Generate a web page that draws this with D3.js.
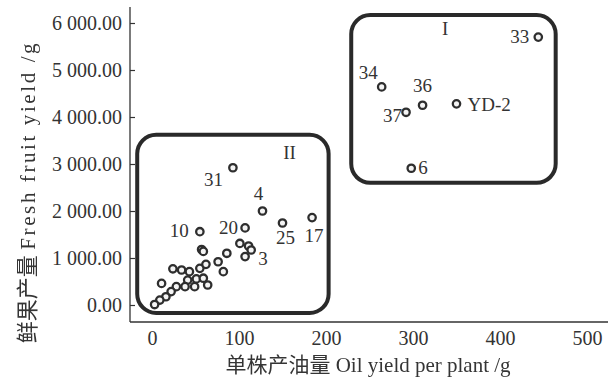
<!DOCTYPE html>
<html>
<head>
<meta charset="utf-8">
<script src="https://cdn.jsdelivr.net/npm/d3@7"></script>
<style>
  html, body { margin: 0; padding: 0; background: #fff; }
  svg { display: block; }
  text { font-family: "Liberation Serif", "Noto Sans CJK SC", serif; fill: #333; }
</style>
</head>
<body>
<svg id="chart" width="615" height="378"></svg>
<script>
// Oil yield per plant (g) vs fresh fruit yield (g), grouped into two clusters.
const labelledIds = ["33", "34", "36", "37", "YD-2", "6", "31", "4", "17", "25", "20", "10", "3"];
const labelledOil = [444, 264, 311, 292, 350, 298, 93, 127, 184, 150, 107, 55, 114];
const labelledFruit = [5700, 4640, 4250, 4100, 4280, 2910, 2920, 2000, 1860, 1745, 1640, 1560, 1170];

const otherOil = [24, 34, 43, 55, 62, 76, 82, 51, 59, 41, 38, 49, 64, 28, 11, 22, 16, 9, 3, 86, 57, 59, 101, 111, 107];
const otherFruit = [770, 745, 710, 780, 865, 920, 710, 555, 570, 530, 390, 390, 425, 390, 460, 285, 175, 105, 10, 1100, 1180, 1140, 1310, 1255, 1030];

const xTicks = [0, 100, 200, 300, 400, 500];
const yTicks = [0, 1000, 2000, 3000, 4000, 5000, 6000];

// Cluster outlines in data units: [oilMin, oilMax, fruitMin, fruitMax]
const groupNames = ["I", "II"];
const groupBounds = [[229, 464, 2600, 6170], [-17, 203, -170, 3620]];
const groupNameAt = [[337, 5740], [158, 3100]];

// Label placement around each point (dx, dy, anchor)
const labelPlacement = {
  "33": [-9, 6, "end"], "34": [-4, -8, "end"], "36": [0, -13, "middle"],
  "37": [-4, 10, "end"], "YD-2": [11, 7, "start"], "6": [7, 6, "start"],
  "31": [-10, 18, "end"], "4": [-4, -11, "middle"], "17": [2, 24, "middle"],
  "25": [3, 21, "middle"], "20": [-7, 6, "end"], "10": [-11, 5, "end"],
  "3": [7, 15, "start"]
};

const svg = d3.select("#chart");
svg.append("rect").attr("width", 615).attr("height", 378).attr("fill", "#fff");

const x = d3.scaleLinear().domain([0, 500]).range([152, 587]);
const y = d3.scaleLinear().domain([0, 6000]).range([305, 23]);

const fmt = d3.formatLocale({ decimal: ".", thousands: " ", grouping: [3], currency: ["", ""] }).format(",.2f");

// Axis lines
svg.append("line").attr("x1", 130).attr("x2", 130).attr("y1", 7).attr("y2", 322)
  .attr("stroke", "#333").attr("stroke-width", 1.3);
svg.append("line").attr("x1", 130).attr("x2", 608).attr("y1", 322).attr("y2", 322)
  .attr("stroke", "#333").attr("stroke-width", 1.3);

// Y axis: inward ticks, labels on the left
const yAxis = svg.append("g").attr("transform", "translate(130,0)")
  .call(d3.axisLeft(y).tickValues(yTicks).tickFormat(fmt).tickSizeInner(-5).tickSizeOuter(0).tickPadding(8));
yAxis.select(".domain").remove();
yAxis.selectAll("line").attr("stroke", "#333").attr("stroke-width", 1.2);
yAxis.selectAll("text").attr("font-size", 20).attr("fill", "#333")
  .style("font-family", "'Liberation Serif', serif");

// X axis: labels only
const xAxis = svg.append("g").attr("transform", "translate(0,322)")
  .call(d3.axisBottom(x).tickValues(xTicks).tickFormat(d3.format("d")).tickSize(0).tickPadding(9));
xAxis.select(".domain").remove();
xAxis.selectAll("text").attr("font-size", 20).attr("fill", "#333")
  .style("font-family", "'Liberation Serif', serif");

// Axis titles
const titles = svg.append("g").attr("opacity", 0.99);
titles.append("text").attr("x", 368).attr("y", 372).attr("text-anchor", "middle")
  .attr("font-size", 21).attr("fill", "#333").text("单株产油量 Oil yield per plant /g");
const yTitle = titles.append("text").attr("transform", "translate(35,192) rotate(-90)")
  .attr("text-anchor", "middle").attr("fill", "#333");
yTitle.append("tspan").attr("font-size", 22).text("鲜果产量 ");
yTitle.append("tspan").attr("font-size", 21).attr("letter-spacing", 2.6).text("Fresh fruit yield /g");

// Cluster outlines
groupBounds.forEach((b, i) => {
  svg.append("rect")
    .attr("x", x(b[0])).attr("y", y(b[3]))
    .attr("width", x(b[1]) - x(b[0])).attr("height", y(b[2]) - y(b[3]))
    .attr("rx", 19).attr("ry", 19)
    .attr("fill", "none").attr("stroke", "#2a2a2a").attr("stroke-width", 4);
  svg.append("text").attr("x", x(groupNameAt[i][0])).attr("y", y(groupNameAt[i][1]))
    .attr("text-anchor", "middle").attr("font-size", 19).text(groupNames[i]);
});

// Points
const allPoints = otherOil.map((v, i) => ({ oil: v, fruit: otherFruit[i] }))
  .concat(labelledOil.map((v, i) => ({ oil: v, fruit: labelledFruit[i], id: labelledIds[i] })));

svg.append("g").selectAll("circle").data(allPoints).join("circle")
  .attr("cx", d => x(d.oil)).attr("cy", d => y(d.fruit)).attr("r", 3.7)
  .attr("fill", "#f4f4f4").attr("stroke", "#2e2e2e").attr("stroke-width", 2.3);

// Point labels
svg.append("g").selectAll("text").data(allPoints.filter(d => d.id)).join("text")
  .attr("x", d => x(d.oil) + labelPlacement[d.id][0])
  .attr("y", d => y(d.fruit) + labelPlacement[d.id][1])
  .attr("text-anchor", d => labelPlacement[d.id][2])
  .attr("font-size", 19)
  .text(d => d.id);
</script>
</body>
</html>
